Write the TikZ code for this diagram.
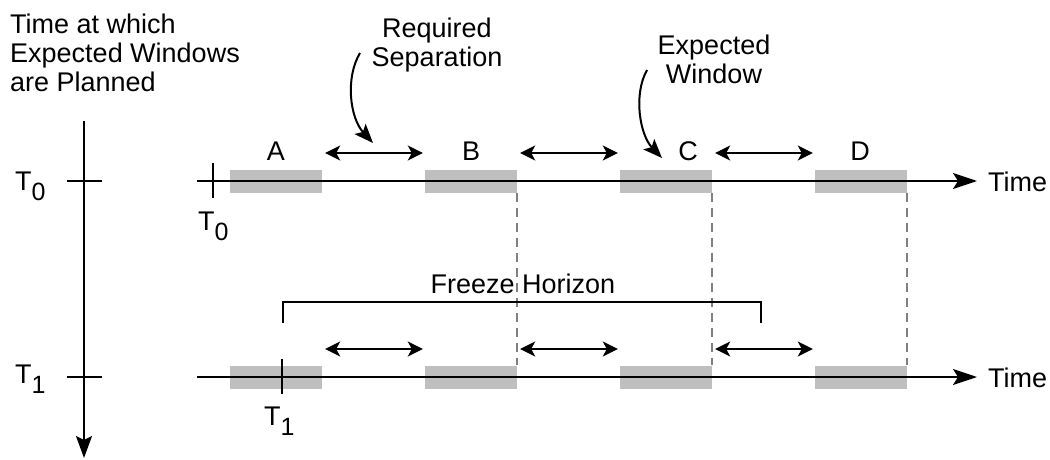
\documentclass[tikz,border=0pt]{standalone}
\usepackage{fontspec}
\setmainfont{Liberation Sans}
\usetikzlibrary{arrows.meta}
\definecolor{wingray}{RGB}{191,191,191}
\definecolor{dashgray}{RGB}{128,128,128}
% lowered index digit, nearly full size
\newcommand{\lowsub}[1]{\raisebox{-10pt}{\fontsize{25}{25}\selectfont #1}}

\begin{document}
\begin{tikzpicture}[x=1pt,y=-1pt,
  every node/.style={font=\fontsize{27}{29}\selectfont, inner sep=0pt},
  axisline/.style={line width=2pt},
  timeline/.style={line width=2pt,-{Stealth[length=24pt,width=16pt,inset=5pt]}},
  window/.style={fill=wingray, minimum width=92pt, minimum height=23pt, inner sep=0pt},
  sepArrow/.style={line width=2pt,
    {Stealth[length=15pt,width=15pt,inset=4pt]}-{Stealth[length=15pt,width=15pt,inset=4pt]}},
  callout/.style={line width=2pt,-{Stealth[length=19pt,width=15pt,inset=4pt]}},
  guide/.style={dashgray,line width=1.5pt,dash pattern=on 9pt off 6pt},
  bracket/.style={line width=2pt}]

\useasboundingbox (0,0) rectangle (1050,460);

% planning-time axis
\node[anchor=north west, align=left] (plan) at (10,14) {Time at which\\Expected Windows\\are Planned};
\coordinate (vtop) at (84,121);
\coordinate (vbot) at (84,458);
\draw[axisline,-{Stealth[length=22pt,width=16pt,inset=4pt]}] (vtop) -- (vbot);
\coordinate (k0l) at (67,181); \coordinate (k0r) at (102,181);
\coordinate (k1l) at (67,377); \coordinate (k1r) at (102,377);
\draw[axisline] (k0l) -- (k0r);
\draw[axisline] (k1l) -- (k1r);
\node[anchor=base west] (lT0) at (15,190) {T\lowsub{0}};
\node[anchor=base west] (lT1) at (15,383) {T\lowsub{1}};

% expected windows
\foreach \n/\x in {a/276,b/471,c/666,d/861}{
  \node[window] (\n0) at (\x,181) {};
  \node[window] (\n1) at (\x,377) {};
}
\node[anchor=base] (labA) at (276,160) {A};
\node[anchor=base] (labB) at (471,160) {B};
\node[anchor=base] (labC) at (688,160) {C};
\node[anchor=base] (labD) at (860,160) {D};

% time lines
\coordinate (s0) at (197,181); \coordinate (e0) at (977,181);
\coordinate (s1) at (197,377); \coordinate (e1) at (977,377);
\draw[timeline] (s0) -- (e0);
\draw[timeline] (s1) -- (e1);
\node[anchor=base west] (time0) at (988,191) {Time};
\node[anchor=base west] (time1) at (988,387) {Time};

% current-time ticks
\coordinate (t0a) at (213,163); \coordinate (t0b) at (213,198);
\coordinate (t1a) at (282,359); \coordinate (t1b) at (282,394);
\draw[axisline] (t0a) -- (t0b);
\draw[axisline] (t1a) -- (t1b);
\node[anchor=base west] (bT0) at (198,230) {T\lowsub{0}};
\node[anchor=base west] (bT1) at (264,425) {T\lowsub{1}};

% required separations
\foreach \p/\q in {a/b,b/c,c/d}{
  \draw[sepArrow] ([shift={(3pt,28pt)}]\p0.east) -- ([shift={(-2pt,28pt)}]\q0.west);
  \draw[sepArrow] ([shift={(3pt,28pt)}]\p1.east) -- ([shift={(-2pt,28pt)}]\q1.west);
}

% guides between the two plans
\draw[guide] (b0.south east) -- (b1.north east);
\draw[guide] (c0.south east) -- (c1.north east);
\draw[guide] (d0.south east) -- (d1.north east);

% freeze horizon
\coordinate (fh1) at (283,323); \coordinate (fh2) at (283,302);
\coordinate (fh3) at (761,302); \coordinate (fh4) at (761,323);
\draw[bracket] (fh1) -- (fh2) -- (fh3) -- (fh4);
\node[anchor=base] (freeze) at (523,293) {Freeze Horizon};

% callouts
\node[anchor=north, align=center] (reqsep) at (437,18) {Required\\Separation};
\node[anchor=north, align=center] (expwin) at (714,35) {Expected\\Window};
\coordinate (rs0) at (360,53); \coordinate (rs1) at (373,143);
\coordinate (ew0) at (647,70); \coordinate (ew1) at (662,158);
\draw[callout] (rs0) .. controls (345,78) and (350,118) .. (rs1);
\draw[callout] (ew0) .. controls (633,95) and (640,135) .. (ew1);
\end{tikzpicture}
\end{document}
